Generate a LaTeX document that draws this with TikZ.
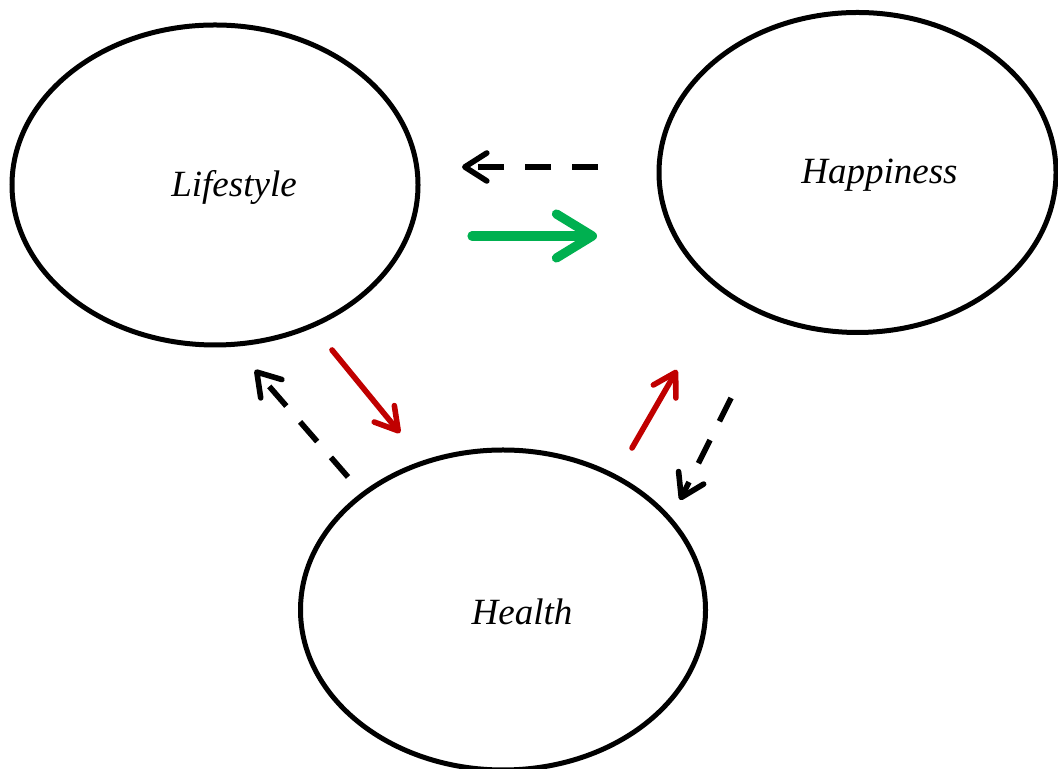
\documentclass[tikz,border=0pt]{standalone}
\usepackage{fontspec}
\setmainfont{Liberation Serif}
\usetikzlibrary{shapes.geometric,arrows.meta}
\definecolor{fwdred}{RGB}{192,0,0}
\definecolor{fwdgreen}{RGB}{0,176,80}

\begin{document}
\begin{tikzpicture}[
        x=0.5pt, y=0.5pt,
        E/.style = {ellipse, draw, line width=2.5pt,% the three factors
                minimum width=#1, minimum height=160pt, inner sep=0pt},
        T/.style = {font=\fontsize{18.5}{22}\selectfont\itshape},
        D/.style = {line width=2.8pt, dash pattern=on 13pt off 10.5pt,% feedback (dashed)
                -{Straight Barb[length=11pt, width=14pt, round]}},
        R/.style = {line width=2.8pt, fwdred, line cap=round,% red links
                -{Straight Barb[length=11pt, width=13pt, round]}},
        G/.style = {line width=4.6pt, fwdgreen, line cap=round,
                -{Straight Barb[length=18pt, width=22pt, round]}},
    ]
    \useasboundingbox (0,0) rectangle (1058,769);
    \node[E=203pt] (life)   at (215,584) {};
    \node[E=198.5pt] (happy)  at (857.5,596.5) {};
    \node[E=202.5pt] (health) at (503,159) {};
    \node[T] (lifeT)   at ([xshift=9.5pt,yshift=-1pt]life.center)   {Lifestyle};
    \node[T] (happyT)  at ([xshift=11pt,yshift=-1.5pt]happy.center) {Happiness};
    \node[T] (healthT) at ([xshift=9.5pt,yshift=-1pt]health.center) {Health};
    % between lifestyle and happiness
    \draw[D] ([shift={(-259.5,5.5)}]happy.center) -- ([shift={(247,18)}]life.center);
    \draw[G] ([shift={(257,-51)}]life.center) -- ([shift={(-260.5,-63.5)}]happy.center);
    % lifestyle <-> health
    \draw[R] ([shift={(117,-165)}]life.center) -- ([shift={(-103,177)}]health.center);
    \draw[D] ([shift={(-155,133)}]health.center) -- ([shift={(40,-185)}]life.center);
    % health <-> happiness
    \draw[R] ([shift={(129,162)}]health.center) -- ([shift={(-180.5,-197.5)}]happy.center);
    \draw[D] ([shift={(-126.5,-225.5)}]happy.center) -- ([shift={(177,110)}]health.center);
\end{tikzpicture}
\end{document}
